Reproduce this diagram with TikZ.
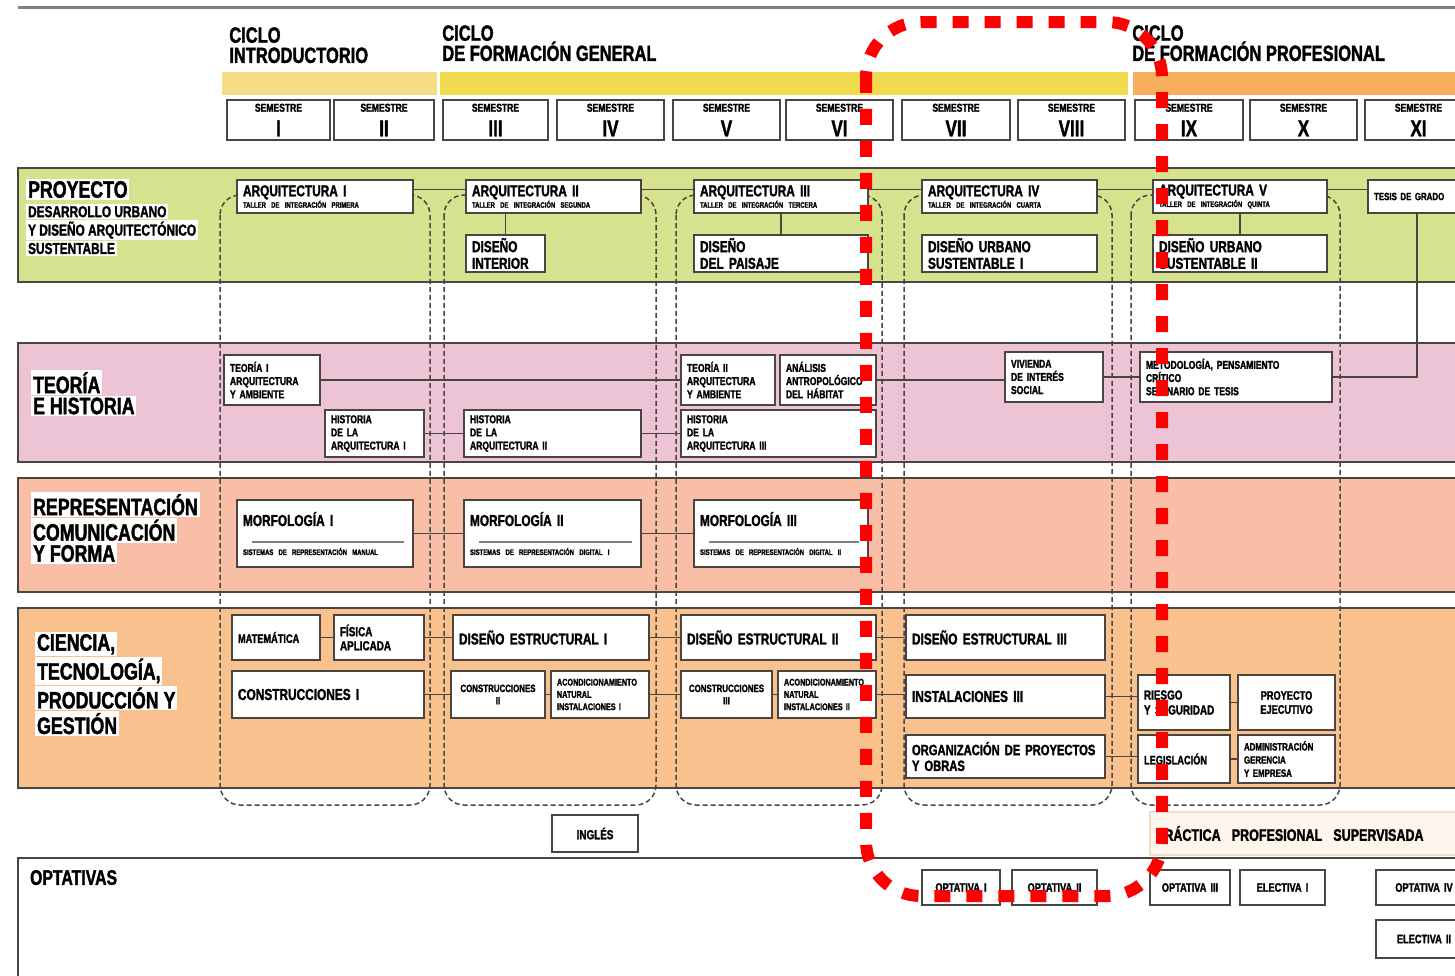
\documentclass[tikz,border=0pt]{standalone}
\usepackage{fontspec}
\setmainfont{Liberation Sans}[FakeStretch=0.75, BoldFeatures={FakeBold=1.6}]
\usetikzlibrary{calc}

\definecolor{introbar}{HTML}{F5DC85}
\definecolor{genbar}{HTML}{F2DA4E}
\definecolor{probar}{HTML}{F8AE5E}
\definecolor{projgreen}{HTML}{D6E28E}
\definecolor{teopink}{HTML}{EDC3D6}
\definecolor{repsalmon}{HTML}{F9BFA6}
\definecolor{cieorange}{HTML}{F9C18E}
\definecolor{edge}{HTML}{4A4540}
\definecolor{ppsfill}{HTML}{FEF5EC}
\definecolor{ppsedge}{HTML}{F0DCC8}
\definecolor{focusred}{HTML}{FF0000}

\hyphenpenalty=10000
\exhyphenpenalty=10000

\newcommand{\fsz}[2]{\fontsize{#1}{#2}\selectfont}
\newcommand{\course}[7][]{%
  \pgfmathsetmacro{\tw}{(#4-#2-12)*0.02}%
  \node[course, text width=\tw cm, minimum width={(#4-#2)*0.02cm}, minimum height={(#5-#3)*0.02cm}, #1] (#6) at ({(#2+#4)/2},{(#3+#5)/2}) {#7};}

\tikzset{
  course/.style={draw=edge, fill=white, line width=0.04cm, inner sep=0.06cm, align=left, font=\bfseries\fsz{9}{9.5}},
  sembox/.style={align=center, font=\bfseries\fsz{6}{14}},
  cyclelabel/.style={anchor=north west, align=left, inner sep=0pt, font=\bfseries\fsz{12.5}{11.5}},
  bandlabel/.style={anchor=north west, fill=white, inner sep=1pt, font=\bfseries\fsz{13.5}{14}},
  band/.style={draw=edge, line width=0.05cm},
  link/.style={draw=edge, line width=0.03cm},
  yearframe/.style={draw=edge, line width=0.03cm, dash pattern=on 0.1cm off 0.06cm, rounded corners=0.4cm},
  sepline/.style={draw=gray, line width=0.05cm},
  focus/.style={draw=focusred, line width=0.24cm, dash pattern=on 0.32cm off 0.32cm, rounded corners=1.1cm}
}

\begin{document}
\begin{tikzpicture}[x=0.02cm, y=-0.02cm]
    \useasboundingbox (0,0) rectangle (1455,975);
    \draw[gray, line width=0.06cm] (18,7) -- (1475,7);

    \node[cyclelabel] (cint) at (229,27) {CICLO\\INTRODUCTORIO};
    \node[cyclelabel] (cgen) at (442,25) {CICLO\\DE FORMACIÓN GENERAL};
    \node[cyclelabel] (cpro) at (1132,25) {CICLO\\DE FORMACIÓN PROFESIONAL};
    \fill[introbar] (222,72) rectangle (437,95);
    \fill[genbar] (440,72) rectangle (1128,95);
    \fill[probar] (1133,72) rectangle (1475,95);

    \foreach \n/\a/\b [count=\i] in {I/227/330, II/334/434, III/443/548, IV/557/664, V/673/780, VI/786/893, VII/902/1010, VIII/1018/1125, IX/1135/1243, X/1250/1357, XI/1365/1472}
        \course[sembox]{\a}{100}{\b}{140}{sem\i}{{\fsz{6.5}{7}SEMESTRE}\\{\fsz{13}{13}\n}};

    \draw[band, fill=projgreen] (1480,168) -- (18,168) -- (18,282) -- (1480,282);
    \draw[band, fill=teopink] (1480,343) -- (18,343) -- (18,462) -- (1480,462);
    \draw[band, fill=repsalmon] (1480,478) -- (18,478) -- (18,592) -- (1480,592);
    \draw[band, fill=cieorange] (1480,608) -- (18,608) -- (18,788) -- (1480,788);

    \node[bandlabel] (lproj) at (26,179) {PROYECTO};
    \node[bandlabel, font=\bfseries\fsz{9}{10}] (lproj2) at ([yshift=-0.8mm]lproj.south west) {DESARROLLO URBANO};
    \node[bandlabel, font=\bfseries\fsz{9}{10}] (lproj3) at (lproj2.south west) {Y DISEÑO ARQUITECTÓNICO};
    \node[bandlabel, font=\bfseries\fsz{9}{10}] (lproj4) at (lproj3.south west) {SUSTENTABLE};
    \node[bandlabel] (lteo) at (31,370) {TEORÍA};
    \node[bandlabel] (lteo2) at (lteo.south west) {E HISTORIA};
    \node[bandlabel] (lrep) at (31,492) {REPRESENTACIÓN};
    \node[bandlabel] (lrep2) at (lrep.south west) {COMUNICACIÓN};
    \node[bandlabel] (lrep3) at (lrep2.south west) {Y FORMA};
    \node[bandlabel] (lcie) at (35,632) {CIENCIA,};
    \node[bandlabel] (lcie2) at (lcie.south west) {TECNOLOGÍA,};
    \node[bandlabel] (lcie3) at (lcie2.south west) {PRODUCCIÓN Y};
    \node[bandlabel] (lcie4) at (lcie3.south west) {GESTIÓN};

    \foreach \a/\b in {220/430, 444/656, 676/882, 904/1112, 1131/1340}
        \draw[yearframe] (\a,195) rectangle (\b,805);

    \course{237}{180}{413}{213}{arq1}{ARQUITECTURA I\\[-3pt]{\fsz{4.5}{5}TALLER DE INTEGRACIÓN PRIMERA}}
    \course{466}{180}{641}{213}{arq2}{ARQUITECTURA II\\[-3pt]{\fsz{4.5}{5}TALLER DE INTEGRACIÓN SEGUNDA}}
    \course{694}{180}{868}{213}{arq3}{ARQUITECTURA III\\[-3pt]{\fsz{4.5}{5}TALLER DE INTEGRACIÓN TERCERA}}
    \course{922}{180}{1097}{213}{arq4}{ARQUITECTURA IV\\[-3pt]{\fsz{4.5}{5}TALLER DE INTEGRACIÓN CUARTA}}
    \course{1153}{180}{1327}{213}{arq5}{ARQUITECTURA V\\[-3pt]{\fsz{4.5}{5}TALLER DE INTEGRACIÓN QUINTA}}
    \course[font=\bfseries\fsz{6}{7}]{1368}{180}{1466}{213}{tesis}{TESIS DE GRADO}
    \course{466}{235}{545}{272}{dint}{DISEÑO\\INTERIOR}
    \course{694}{235}{868}{272}{dpai}{DISEÑO\\DEL PAISAJE}
    \course{922}{235}{1097}{272}{dus1}{DISEÑO URBANO\\SUSTENTABLE I}
    \course{1153}{235}{1327}{272}{dus2}{DISEÑO URBANO\\SUSTENTABLE II}

    \course[font=\bfseries\fsz{6.5}{7.5}]{224}{355}{320}{405}{teo1}{TEORÍA I\\ARQUITECTURA\\Y AMBIENTE}
    \course[font=\bfseries\fsz{6.5}{7.5}]{325}{410}{424}{457}{his1}{HISTORIA\\DE LA\\ARQUITECTURA I}
    \course[font=\bfseries\fsz{6.5}{7.5}]{464}{410}{641}{457}{his2}{HISTORIA\\DE LA\\ARQUITECTURA II}
    \course[font=\bfseries\fsz{6.5}{7.5}]{681}{355}{775}{405}{teo2}{TEORÍA II\\ARQUITECTURA\\Y AMBIENTE}
    \course[font=\bfseries\fsz{6.5}{7.5}]{780}{355}{876}{405}{anal}{ANÁLISIS\\ANTROPOLÓGICO\\DEL HÁBITAT}
    \course[font=\bfseries\fsz{6.5}{7.5}]{681}{410}{876}{457}{his3}{HISTORIA\\DE LA\\ARQUITECTURA III}
    \course[font=\bfseries\fsz{6.5}{7.5}]{1005}{352}{1103}{402}{viv}{VIVIENDA\\DE INTERÉS\\SOCIAL}
    \course[font=\bfseries\fsz{6.5}{7.5}]{1140}{352}{1332}{402}{met}{METODOLOGÍA, PENSAMIENTO\\CRÍTICO\\SEMINARIO DE TESIS}

    \course{237}{500}{413}{567}{mor1}{MORFOLOGÍA I\\[7pt]{\fsz{4.5}{5}SISTEMAS DE REPRESENTACIÓN MANUAL}}
    \course{464}{500}{641}{567}{mor2}{MORFOLOGÍA II\\[7pt]{\fsz{4.5}{5}SISTEMAS DE REPRESENTACIÓN DIGITAL I}}
    \course{694}{500}{868}{567}{mor3}{MORFOLOGÍA III\\[7pt]{\fsz{4.5}{5}SISTEMAS DE REPRESENTACIÓN DIGITAL II}}
    \foreach \m in {mor1, mor2, mor3}
        \draw[sepline] ($(\m.south west)+(16,-26)$) -- ($(\m.south east)+(-10,-26)$);

    \course[font=\bfseries\fsz{7}{8}]{232}{615}{320}{660}{mat}{MATEMÁTICA}
    \course[font=\bfseries\fsz{7.5}{8}]{334}{615}{424}{660}{fis}{FÍSICA\\APLICADA}
    \course{232}{671}{424}{718}{con1}{CONSTRUCCIONES I}
    \course{453}{615}{649}{660}{dest1}{DISEÑO ESTRUCTURAL I}
    \course[align=center, font=\bfseries\fsz{6}{7}]{451}{671}{545}{718}{con2}{CONSTRUCCIONES\\II}
    \course[font=\bfseries\fsz{5.5}{7}]{551}{671}{649}{718}{aco1}{ACONDICIONAMIENTO\\NATURAL\\INSTALACIONES I}
    \course{681}{615}{876}{660}{dest2}{DISEÑO ESTRUCTURAL II}
    \course[align=center, font=\bfseries\fsz{6}{7}]{681}{671}{772}{718}{con3}{CONSTRUCCIONES\\III}
    \course[font=\bfseries\fsz{5.5}{7}]{778}{671}{876}{718}{aco2}{ACONDICIONAMIENTO\\NATURAL\\INSTALACIONES II}
    \course{906}{615}{1105}{660}{dest3}{DISEÑO ESTRUCTURAL III}
    \course{906}{675}{1105}{718}{ins3}{INSTALACIONES III}
    \course[font=\bfseries\fsz{8.5}{9}]{906}{735}{1105}{778}{org}{ORGANIZACIÓN DE PROYECTOS\\Y OBRAS}
    \course[font=\bfseries\fsz{7.5}{8.5}]{1138}{675}{1230}{730}{ries}{RIESGO\\Y SEGURIDAD}
    \course[align=center, font=\bfseries\fsz{7}{8}]{1238}{675}{1335}{730}{pej}{PROYECTO\\EJECUTIVO}
    \course[font=\bfseries\fsz{7}{8}]{1138}{735}{1230}{783}{leg}{LEGISLACIÓN}
    \course[font=\bfseries\fsz{6}{7.5}]{1238}{735}{1335}{783}{adm}{ADMINISTRACIÓN\\GERENCIA\\Y EMPRESA}

    \foreach \a/\b in {arq1/arq2, arq2/arq3, arq3/arq4, arq4/arq5, arq5/tesis}
        \draw[link] ([yshift=1.4mm]\a.east) -- ([yshift=1.4mm]\b.west);
    \draw[link] (dint.north |- arq2.south) -- (dint.north);
    \draw[link] (arq3.south) -- (dpai.north);
    \draw[link] (arq5.south) -- (dus2.north);
    \draw[link] (tesis.south) |- (met.east);
    \foreach \a/\b in {teo1/teo2, anal/viv, viv/met, his1/his2, his2/his3, mor1/mor2, mor2/mor3, mat/fis, fis/dest1, dest1/dest2, dest2/dest3, con1/con2, con2/aco1, aco1/con3, con3/aco2, aco2/ins3, ins3/ries, ries/pej, org/leg, leg/adm}
        \draw[link] (\a.east) -- (\a.east -| \b.west);

    \course[align=center, font=\bfseries\fsz{7.5}{8}]{552}{815}{638}{852}{ing}{INGLÉS}
    \course[draw=ppsedge, fill=ppsfill, line width=0.03cm, font=\bfseries\fsz{9.5}{10}]{1150}{812}{1475}{855}{pps}{PRÁCTICA \ PROFESIONAL \ SUPERVISADA}

    \draw[edge, line width=0.04cm] (18,980) -- (18,858) -- (1480,858);
    \node[anchor=north west, inner sep=1pt, font=\bfseries\fsz{12}{13}] (lopt) at (28,868) {OPTATIVAS};
    \course[align=center, font=\bfseries\fsz{7}{8}]{922}{870}{1000}{905}{opt1}{OPTATIVA I}
    \course[align=center, font=\bfseries\fsz{7}{8}]{1012}{870}{1097}{905}{opt2}{OPTATIVA II}
    \course[align=center, font=\bfseries\fsz{7}{8}]{1150}{870}{1230}{905}{opt3}{OPTATIVA III}
    \course[align=center, font=\bfseries\fsz{7}{8}]{1240}{870}{1325}{905}{ele1}{ELECTIVA I}
    \course[align=center, font=\bfseries\fsz{7}{8}]{1376}{870}{1472}{905}{opt4}{OPTATIVA IV}
    \course[align=center, font=\bfseries\fsz{7}{8}]{1376}{920}{1472}{958}{ele2}{ELECTIVA II}

    \draw[focus] (866,22) rectangle (1162,896);
\end{tikzpicture}
\end{document}
